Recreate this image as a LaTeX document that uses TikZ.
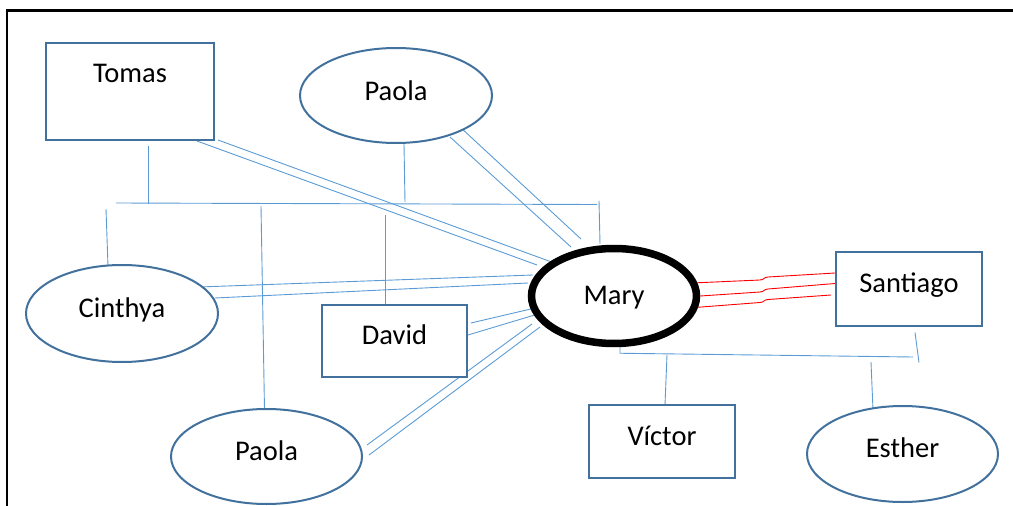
\documentclass[tikz,border=0pt]{standalone}
\usepackage{fontspec}
\setmainfont{Carlito}
\usetikzlibrary{shapes.geometric,calc}
\pgfdeclarelayer{bg}
\pgfsetlayers{bg,main}
\definecolor{outl}{RGB}{65,113,156}
\definecolor{conn}{RGB}{91,155,213}
\begin{document}
\begin{tikzpicture}[x=1pt,y=-1pt,
  every node/.style={font=\fontsize{28.5}{34}\selectfont, inner sep=0pt, text height=20pt, text depth=13pt},
  pbox/.style={draw=outl, line width=2pt, fill=white, rectangle},
  pell/.style={draw=outl, line width=2pt, fill=white, ellipse},
  link/.style={draw=conn, line width=0.9pt},
  rlink/.style={draw=red, line width=0.9pt},
  frameline/.style={draw=black, line width=2.5pt}]
\useasboundingbox (0,0) rectangle (1013,506);

\node[pbox, minimum width=168pt, minimum height=97pt, text depth=39pt] (tomas) at (130,91.5) {Tomas};
\node[pell, minimum width=192pt, minimum height=95pt, text depth=11pt] (paolaA) at (396,95.5) {Paola};
\node[pell, minimum width=192pt, minimum height=97pt] (cinthya) at (122,313.5) {Cinthya};
\node[pbox, minimum width=145pt, minimum height=72pt] (david) at (394.5,341) {David};
\node[ellipse, draw=black, fill=white, line width=7.5pt, minimum width=165pt, minimum height=95pt, text depth=4pt] (mary) at (614,296) {Mary};
\node[pbox, minimum width=146pt, minimum height=74pt] (santiago) at (909,288.5) {Santiago};
\node[pbox, minimum width=146pt, minimum height=73pt] (victor) at (662,441.5) {Víctor};
\node[pell, minimum width=191pt, minimum height=96pt] (esther) at (902.5,454) {Esther};
\node[pell, minimum width=191pt, minimum height=95pt] (paolaB) at (266.5,456.5) {Paola};

\begin{pgfonlayer}{bg}
\draw[frameline] (7,506) -- (7,10.5) -- (1013,10.5);
% upper bus
\coordinate (busL) at (116,203);
\coordinate (busR) at (597,204.5);
\draw[link] (busL) -- (busR);
\draw[link] ($(tomas.south)+(18,5)$) -- +(0,58);
\draw[link] ($(paolaA.south)+(8,0)$) -- +(1,58);
\draw[link] ($(mary.north)+(-15,-44)$) -- ($(mary.north)+(-14,-1)$);
\draw[link] ($(cinthya.north)+(-16,-55)$) -- ($(cinthya.north)+(-14,2)$);
\draw[link] ($(paolaB.north)+(-5.5,-202)$) -- ($(paolaB.north)+(-2,2)$);
\draw[link] ($(david.north)+(-9.5,-89)$) -- ($(david.north)+(-9.5,2)$);
% double lines to Mary
\draw[link] ($(tomas.south east)+(-18,0)$) -- ($(mary)+(-77,-31)$);
\draw[link] ($(tomas.south east)+(3,-1)$) -- ($(mary)+(-57,-32)$);
\draw[link] ($(paolaA)+(54,41.5)$) -- ($(mary)+(-43,-49)$);
\draw[link] ($(paolaA)+(64,31.5)$) -- ($(mary)+(-33,-57)$);
\draw[link] ($(cinthya)+(77,-26.5)$) -- ($(mary)+(-81,-21)$);
\draw[link] ($(cinthya)+(93,-15.5)$) -- ($(mary)+(-86,-13)$);
\draw[link] ($(david)+(76.5,-18)$) -- ($(mary)+(-79,12)$);
\draw[link] ($(david)+(73.5,-6)$) -- ($(mary)+(-76,18)$);
\draw[link] ($(paolaB)+(100.5,-11.5)$) -- ($(mary)+(-82,28)$);
\draw[link] ($(paolaB)+(102.5,-1.5)$) -- ($(mary)+(-74,31)$);
% lower bus
\coordinate (busB) at (913,357);
\draw[link] ($(mary.south)+(6,-2)$) -- ++(0,8) -- (busB);
\draw[link] ($(santiago.south)+(6,6)$) -- +(4,30);
\draw[link] ($(victor.north)+(5,-49)$) -- ($(victor.north)+(3,1)$);
\draw[link] ($(esther.north)+(-31.5,-43)$) -- ($(esther.north)+(-29.5,5)$);
% red lines Mary - Santiago
\draw[rlink] ($(mary)+(78,-13)$) -- ++(68,-3) .. controls +(4,0) and +(-4,0) .. ++(8,-3) -- ($(santiago.west)+(0,-15.5)$);
\draw[rlink] ($(mary)+(86,0)$) -- ++(60,-4) .. controls +(4,0) and +(-4,0) .. ++(8,-3) -- ($(santiago.west)+(0,-5)$);
\draw[rlink] ($(mary)+(81,11.5)$) -- ++(65,-5) .. controls +(4,0) and +(-4,0) .. ++(8,-3) -- ($(santiago.west)+(-4,6.5)$);
\end{pgfonlayer}
\end{tikzpicture}
\end{document}
